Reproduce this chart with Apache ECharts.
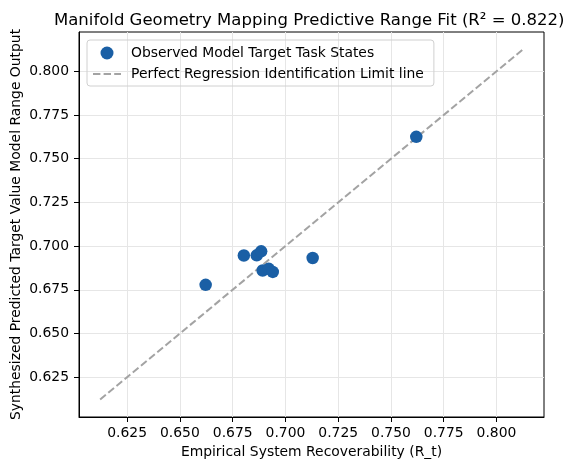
<!DOCTYPE html>
<html lang="en">
<head>
    <meta charset="UTF-8">
    <title>Predictive Range Fit</title>
    <script type="text/javascript" src="https://cdn.jsdelivr.net/npm/echarts@6.0.0/dist/echarts.min.js"></script>
    <style>
        body { margin: 0; background: #fff; }
    </style>
</head>
<body>
<div id="main" style="width: 578px;height:470px;"></div>

<script type="text/javascript">

    // observed points
    var recoverability = [0.6622, 0.6803, 0.6864, 0.6885, 0.6892, 0.6921, 0.6940, 0.7129, 0.7620];
    var predicted      = [0.6778, 0.6946, 0.6947, 0.6970, 0.6860, 0.6870, 0.6852, 0.6932, 0.7625];
    var tickValues = [0.625, 0.650, 0.675, 0.700, 0.725, 0.750, 0.775, 0.800];

    var points = [];
    for (var i = 0; i < recoverability.length; i++) {
        points.push([recoverability[i], predicted[i]]);
    }

    // identity line: data min - 0.05 .. data max + 0.05
    var lo = Math.min(Math.min.apply(null, recoverability), Math.min.apply(null, predicted)) - 0.05;
    var hi = Math.max(Math.max.apply(null, recoverability), Math.max.apply(null, predicted)) + 0.05;
    var pad = (hi - lo) * 0.05;

    var font = 'DejaVu Sans';

    function axisCfg(name, isX) {
        return {
            type: 'value',
            min: lo - pad,
            max: hi + pad,
            name: name,
            nameLocation: 'middle',
            nameMoveOverlap: false,
            nameGap: isX ? 28 : 56,
            nameTextStyle: { color: '#000', fontSize: 13.9, fontFamily: font },
            axisLine: { show: true, onZero: false, lineStyle: { color: '#000', width: 1 } },
            axisTick: { show: true, length: 5, customValues: tickValues, lineStyle: { color: '#000' } },
            axisLabel: {
                customValues: tickValues,
                color: '#000',
                fontSize: 13.9,
                fontFamily: font,
                margin: isX ? 9 : 10,
                formatter: function (v) { return v.toFixed(3); }
            },
            splitLine: { show: true, lineStyle: { color: '#e6e6e6', width: 1 } }
        };
    }

    var option = {
        backgroundColor: '#fff',
        animation: false,
        title: {
            text: 'Manifold Geometry Mapping Predictive Range Fit (R² = 0.822)',
            left: 49,
            top: 7,
            textStyle: { color: '#000', fontSize: 16.5, fontWeight: 'normal', fontFamily: font }
        },
        grid: {
            left: 79, right: 34, top: 32, bottom: 53,
            outerBoundsMode: 'none',
            containLabel: false,
            show: true, borderColor: '#000', borderWidth: 1
        },
        legend: {
            orient: 'vertical',
            left: 87,
            top: 40,
            padding: [6, 10, 5, 5],
            itemWidth: 28,
            itemHeight: 13,
            itemGap: 7,
            borderColor: '#d0d0d0',
            borderWidth: 1,
            borderRadius: 3,
            textStyle: { color: '#000', fontSize: 13.9, fontFamily: font, padding: [0, 0, 0, 5] },
            data: [
                'Observed Model Target Task States',
                { name: 'Perfect Regression Identification Limit line', itemStyle: { opacity: 0 } }
            ]
        },
        xAxis: axisCfg('Empirical System Recoverability (R_t)', true),
        yAxis: axisCfg('Synthesized Predicted Target Value Model Range Output', false),
        series: [
            {
                name: 'Perfect Regression Identification Limit line',
                type: 'line',
                symbol: 'none',
                z: 1,
                lineStyle: { color: '#a3a3a3', width: 2, type: [7.4, 3.2] },
                itemStyle: { color: '#a3a3a3' },
                data: [[lo, lo], [hi, hi]]
            },
            {
                name: 'Observed Model Target Task States',
                type: 'scatter',
                symbolSize: 12.5,
                z: 3,
                itemStyle: { color: '#1a5fa5', opacity: 1 },
                data: points
            }
        ]
    };

    var chart = echarts.init(document.getElementById('main'));
    chart.setOption(option);
</script>
</body>
</html>
